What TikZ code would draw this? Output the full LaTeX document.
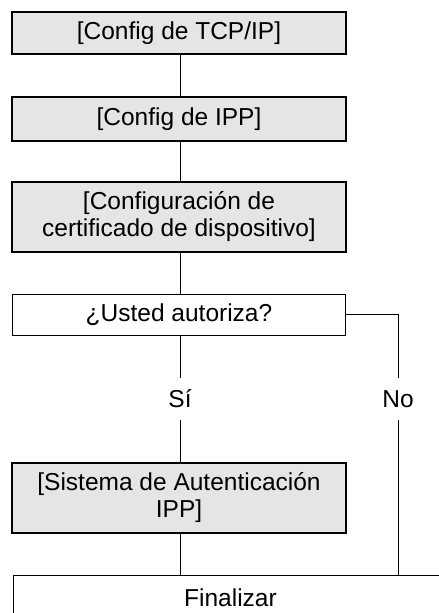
\documentclass[tikz,border=0pt]{standalone}
\usepackage{fontspec}
\setmainfont{Liberation Sans}
\begin{document}
\begin{tikzpicture}[x=1pt,y=1pt,
  every node/.style={font=\fontsize{24.5}{27}\selectfont},
  stepbox/.style={draw, line width=2.4pt, fill=boxgray, minimum width=334, inner sep=0pt, align=center, anchor=center},
  askbox/.style={draw, line width=1pt, fill=white, minimum width=333, inner sep=0pt, align=center},
  lbl/.style={inner sep=0pt, minimum height=42, minimum width=30},
  conn/.style={line width=1pt}]
\definecolor{boxgray}{RGB}{229,229,229}
\useasboundingbox (0,0) rectangle (439,-613);
\clip (0,0) rectangle (439,-613);
\fill[white] (0,0) rectangle (439,-613);
\node[stepbox, minimum height=42] (b1) at (179,-33) {[Config de TCP/IP]};
\node[stepbox, minimum height=44] (b2) at (179,-119) {[Config de IPP]};
\node[stepbox, minimum height=70] (b3) at (179,-217) {[Configuración de\\certificado de dispositivo]};
\node[askbox, minimum height=41] (b4) at (179,-314.5) {¿Usted autoriza?};
\node[lbl] (si) at (180,-399) {Sí};
\node[lbl] (no) at (398,-399) {No};
\node[stepbox, minimum height=70] (b5) at (179,-498) {[Sistema de Autenticación\\IPP]};
\node[draw, line width=1pt, minimum width=434, minimum height=44, inner sep=0pt, anchor=north west] (fin) at (13,-575) {Finalizar};
\draw[conn] (b1.south -| 180,0) -- (b2.north -| 180,0);
\draw[conn] (b2.south -| 180,0) -- (b3.north -| 180,0);
\draw[conn] (b3.south -| 180,0) -- (b4.north -| 180,0);
\draw[conn] (b4.south -| si) -- (si.north);
\draw[conn] (si.south) -- (b5.north -| si);
\draw[conn] (b5.south -| si) -- (fin.north -| si);
\draw[conn] (b4.east) -- (b4.east -| no) -- (no.north);
\draw[conn] (no.south) -- (fin.north -| no);
\end{tikzpicture}
\end{document}
